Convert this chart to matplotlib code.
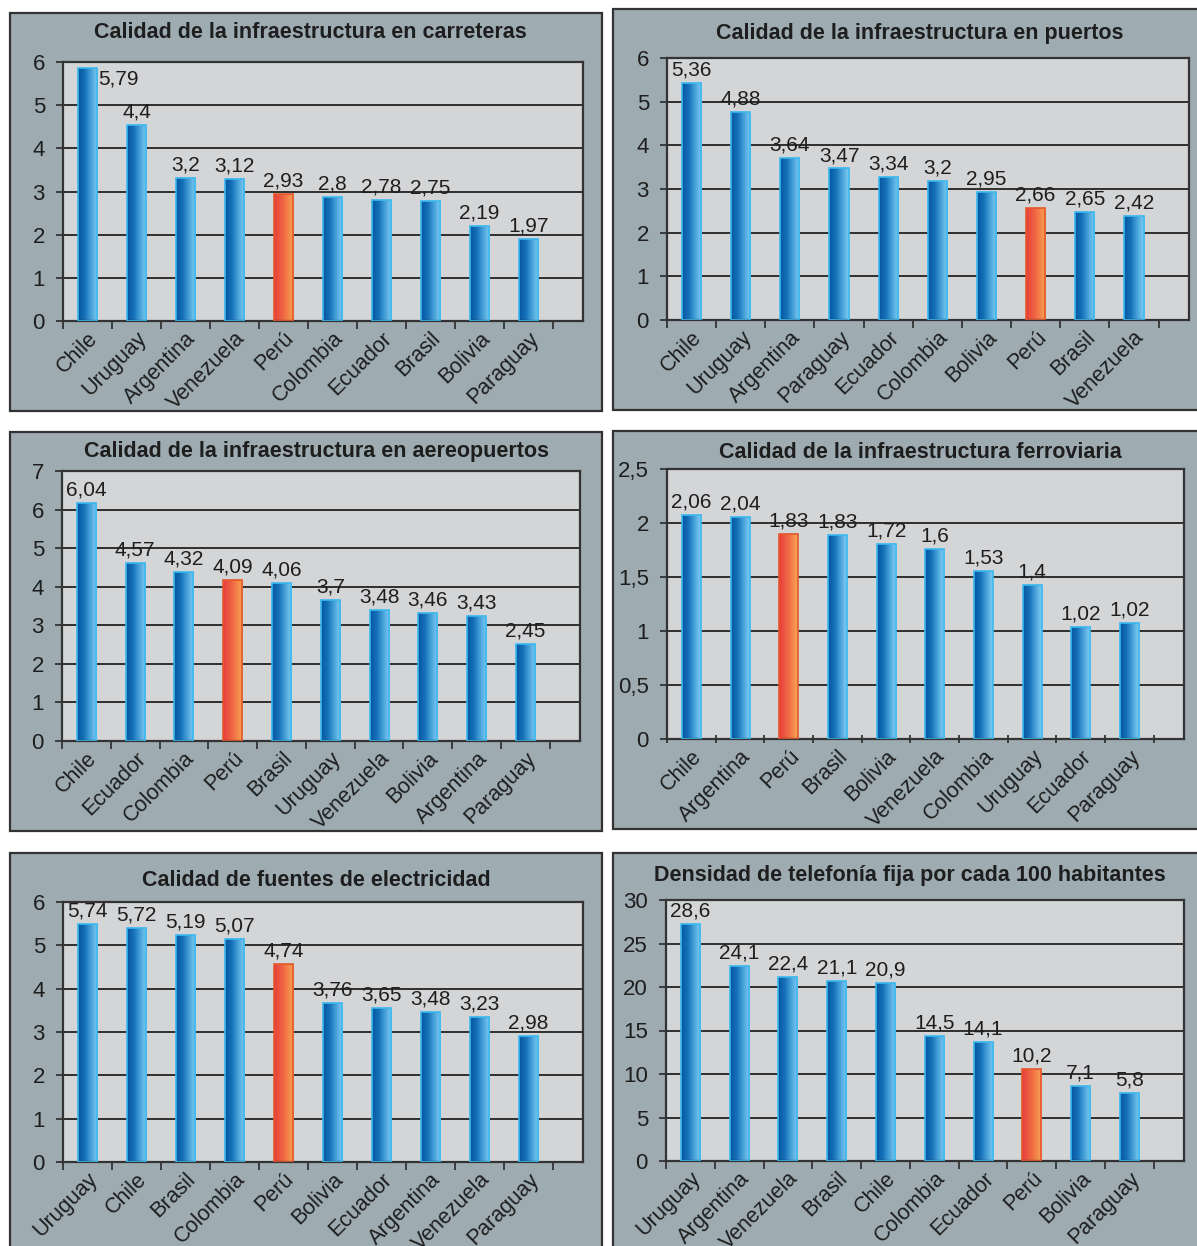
import matplotlib
matplotlib.use("Agg")
import matplotlib.pyplot as plt
import numpy as np
from matplotlib.colors import LinearSegmentedColormap
from matplotlib.patches import Rectangle
from matplotlib.ticker import FuncFormatter, MultipleLocator

plt.rcParams['font.family'] = ['Liberation Sans', 'DejaVu Sans']

# Data: categories, bar heights as drawn, and the printed value labels
carreteras_paises = ['Chile', 'Uruguay', 'Argentina', 'Venezuela', 'Perú', 'Colombia',
                     'Ecuador', 'Brasil', 'Bolivia', 'Paraguay']
carreteras_alturas = [5.87, 4.55, 3.32, 3.29, 2.94, 2.88, 2.81, 2.79, 2.2, 1.91]
carreteras_etiquetas = ['5,79', '4,4', '3,2', '3,12', '2,93', '2,8', '2,78', '2,75', '2,19', '1,97']

puertos_paises = ['Chile', 'Uruguay', 'Argentina', 'Paraguay', 'Ecuador', 'Colombia',
                  'Bolivia', 'Perú', 'Brasil', 'Venezuela']
puertos_alturas = [5.42, 4.76, 3.7, 3.47, 3.27, 3.18, 2.93, 2.56, 2.47, 2.38]
puertos_etiquetas = ['5,36', '4,88', '3,64', '3,47', '3,34', '3,2', '2,95', '2,66', '2,65', '2,42']

aero_paises = ['Chile', 'Ecuador', 'Colombia', 'Perú', 'Brasil', 'Uruguay', 'Venezuela',
               'Bolivia', 'Argentina', 'Paraguay']
aero_alturas = [6.16, 4.62, 4.37, 4.17, 4.1, 3.66, 3.4, 3.32, 3.25, 2.52]
aero_etiquetas = ['6,04', '4,57', '4,32', '4,09', '4,06', '3,7', '3,48', '3,46', '3,43', '2,45']

ferro_paises = ['Chile', 'Argentina', 'Perú', 'Brasil', 'Bolivia', 'Venezuela', 'Colombia',
                'Uruguay', 'Ecuador', 'Paraguay']
ferro_alturas = [2.07, 2.06, 1.9, 1.89, 1.81, 1.76, 1.56, 1.43, 1.04, 1.07]
ferro_etiquetas = ['2,06', '2,04', '1,83', '1,83', '1,72', '1,6', '1,53', '1,4', '1,02', '1,02']

elec_paises = ['Uruguay', 'Chile', 'Brasil', 'Colombia', 'Perú', 'Bolivia', 'Ecuador',
               'Argentina', 'Venezuela', 'Paraguay']
elec_alturas = [5.49, 5.41, 5.24, 5.14, 4.58, 3.67, 3.55, 3.46, 3.35, 2.9]
elec_etiquetas = ['5,74', '5,72', '5,19', '5,07', '4,74', '3,76', '3,65', '3,48', '3,23', '2,98']

tel_paises = ['Uruguay', 'Argentina', 'Venezuela', 'Brasil', 'Chile', 'Colombia', 'Ecuador',
              'Perú', 'Bolivia', 'Paraguay']
tel_alturas = [27.2, 22.4, 21.1, 20.7, 20.5, 14.4, 13.7, 10.6, 8.6, 7.8]
tel_etiquetas = ['28,6', '24,1', '22,4', '21,1', '20,9', '14,5', '14,1', '10,2', '7,1', '5,8']

W, H = 1197, 1246
fig = plt.figure(figsize=(W / 100, H / 100), dpi=100)

panel_bg = '#9eacb2'
plot_bg = '#d4d5d7'
blue = LinearSegmentedColormap.from_list('azul', ['#0656a0', '#1570b8', '#48a2da', '#82cdf3'])
orange = LinearSegmentedColormap.from_list('naranja', ['#e63e3c', '#f06a44', '#f8a655'])
grad = np.linspace(0, 1, 64).reshape(1, -1)


def coma(v, pos):
    return ('%g' % v).replace('.', ',')


def panel(box, axbox, titulo, ty, paises, alturas, etiquetas, ymax, paso, tx, ticks_dir='out'):
    x0, y0, x1, y1 = box
    fig.patches.append(Rectangle((x0 / W, 1 - y1 / H), (x1 - x0) / W, (y1 - y0) / H,
                                 transform=fig.transFigure, facecolor=panel_bg,
                                 edgecolor='#333333', lw=1.6, zorder=-5))
    fig.text(tx / W, 1 - ty / H, titulo, ha='center', va='center', fontsize=15.5,
             fontweight='bold', color='#1e1e1e')
    l, t, r, b = axbox
    ax = fig.add_axes([l / W, 1 - b / H, (r - l) / W, (b - t) / H])
    ax.set_facecolor(plot_bg)
    x = np.arange(len(paises))
    bars = ax.bar(x, alturas, width=0.39, facecolor='none', zorder=3)
    for bar, pais, h, txt, xi in zip(bars, paises, alturas, etiquetas, x):
        peru = pais == 'Perú'
        bar.set_edgecolor('#e4582c' if peru else '#3ab8ee')
        bar.set_linewidth(1.2)
        bx, by, bw, bh = bar.get_x(), bar.get_y(), bar.get_width(), bar.get_height()
        im = ax.imshow(grad, cmap=orange if peru else blue, extent=(bx, bx + bw, by, by + bh),
                       aspect='auto', zorder=2, interpolation='bilinear')
        im.set_clip_path(bar)
        if h > ymax * 0.95:
            ax.annotate(txt, (bx + bw, h), xytext=(1, -1), textcoords='offset points',
                        ha='left', va='top', fontsize=15, color='#1e1e1e')
        else:
            ax.annotate(txt, (xi, h), xytext=(0, 2.5), textcoords='offset points',
                        ha='center', va='bottom', fontsize=15, color='#1e1e1e')
    ax.set_xlim(-0.5, 10.12)
    ax.set_ylim(0, ymax)
    ax.yaxis.set_major_locator(MultipleLocator(paso))
    ax.yaxis.set_major_formatter(FuncFormatter(coma))
    ax.set_xticks(np.arange(11) - 0.5)
    ax.set_xticklabels([])
    ax.set_xticks(x, minor=True)
    ax.set_xticklabels(paises, minor=True, rotation=45, ha='right', rotation_mode='anchor',
                       fontsize=15.5, color='#1e1e1e')
    ax.tick_params(axis='x', which='minor', length=0, pad=5)
    ax.tick_params(axis='x', which='major', direction=ticks_dir, length=6, width=1.3,
                   color='#333333')
    ax.tick_params(axis='y', length=5, width=1.3, color='#333333', labelsize=16,
                   labelcolor='#1e1e1e', pad=8)
    ax.yaxis.grid(True, color='#222222', lw=1.3)
    ax.set_axisbelow(True)
    for s in ax.spines.values():
        s.set_color('#333333')
        s.set_linewidth(1.6)
    return ax


panel((10, 13, 602, 411), (63, 62, 583, 321), 'Calidad de la infraestructura en carreteras', 33,
      carreteras_paises, carreteras_alturas, carreteras_etiquetas, 6, 1, 310)
panel((613, 9, 1205, 410), (667, 58, 1189, 320), 'Calidad de la infraestructura en puertos', 33,
      puertos_paises, puertos_alturas, puertos_etiquetas, 6, 1, 920)
panel((10, 432, 602, 831), (62, 471, 580, 741), 'Calidad de la infraestructura en aereopuertos', 451,
      aero_paises, aero_alturas, aero_etiquetas, 7, 1, 316)
panel((613, 431, 1205, 829), (667, 469, 1184, 739), 'Calidad de la infraestructura ferroviaria', 452,
      ferro_paises, ferro_alturas, ferro_etiquetas, 2.5, 0.5, 920, ticks_dir='inout')
panel((10, 853, 602, 1256), (63, 902, 583, 1162), 'Calidad de fuentes de electricidad', 881,
      elec_paises, elec_alturas, elec_etiquetas, 6, 1, 316)
panel((613, 853, 1205, 1256), (666, 900, 1184, 1161), 'Densidad de telefonía fija por cada 100 habitantes', 875,
      tel_paises, tel_alturas, tel_etiquetas, 30, 5, 910)

fig.savefig('out.png', dpi=100, facecolor='white')
